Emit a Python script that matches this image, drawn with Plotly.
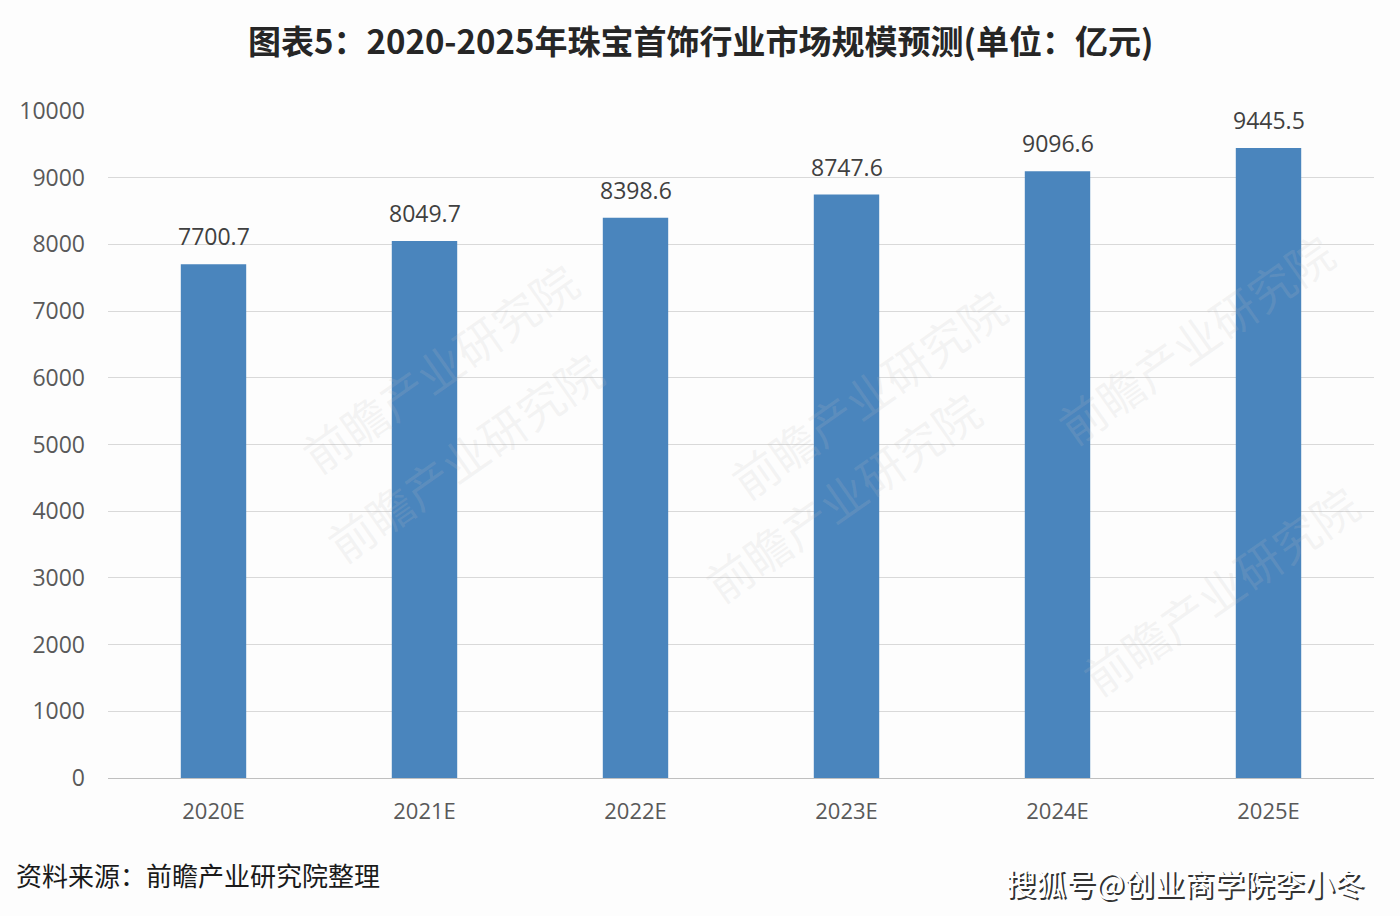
import plotly.graph_objects as go

categories = ["2020E", "2021E", "2022E", "2023E", "2024E", "2025E"]
values = [7700.7, 8049.7, 8398.6, 8747.6, 9096.6, 9445.5]
value_labels = ["7700.7", "8049.7", "8398.6", "8747.6", "9096.6", "9445.5"]
y_ticks = [0, 1000, 2000, 3000, 4000, 5000, 6000, 7000, 8000, 9000, 10000]
y_tick_labels = ["0", "1000", "2000", "3000", "4000", "5000", "6000", "7000", "8000", "9000", "10000"]

title_text = "图表5：2020-2025年珠宝首饰行业市场规模预测(单位：亿元)"
source_text = "资料来源：前瞻产业研究院整理"
mark_text = "搜狐号@创业商学院李小冬"
wm_text = "前瞻产业研究院"

fig = go.Figure()
fig.add_trace(go.Bar(
    x=categories, y=values,
    marker=dict(color="#4A85BD", line=dict(width=0)),
    width=0.31,
    hoverinfo="x+y",
))

fig.update_layout(
    width=1400, height=916,
    margin=dict(l=108, r=26, t=111, b=138),
    paper_bgcolor="#FDFDFD", plot_bgcolor="#FDFDFD",
    showlegend=False,
    xaxis=dict(
        tickfont=dict(family="Open Sans, Liberation Sans, sans-serif", size=22, color="#595959"),
        showgrid=False, showline=True, linecolor="#BFBFBF", linewidth=1,
        ticks="", ticklabelstandoff=14,
    ),
    yaxis=dict(
        range=[0, 10000], tickvals=y_ticks, ticktext=y_tick_labels,
        tickfont=dict(family="Open Sans, Liberation Sans, sans-serif", size=23, color="#595959"),
        showgrid=True, gridcolor="#D9D9D9", gridwidth=1,
        zeroline=False, showline=False, ticks="", ticklabelstandoff=22,
    ),
)

# faint watermarks
wm_positions = [(0.14, 0.8), (0.6, 0.76), (0.98, 0.66), (0.16, 0.3), (0.58, 0.24), (1.0, 0.1)]
for (wx, wy) in wm_positions:
    fig.add_annotation(text=wm_text, xref="paper", yref="paper", x=wx, y=wy,
                       showarrow=False, textangle=-35,
                       font=dict(family="Noto Sans CJK SC, sans-serif", size=46,
                                 color="rgba(190,190,190,0.16)"))

# data labels
for c, v, t in zip(categories, values, value_labels):
    fig.add_annotation(text=t, x=c, y=v, xref="x", yref="y", yshift=28,
                       showarrow=False, xanchor="center", yanchor="middle",
                       font=dict(family="Open Sans, Liberation Sans, sans-serif", size=23, color="#404040"))

fig.add_annotation(text="<b>" + title_text + "</b>", xref="paper", yref="paper",
                   x=0.5, xshift=-41, y=1, yshift=71, xanchor="center", yanchor="middle",
                   showarrow=False,
                   font=dict(family="Noto Sans CJK SC, sans-serif", size=33, color="#262626"))
fig.add_annotation(text=source_text, xref="paper", yref="paper",
                   x=0, xshift=-94, y=0, yshift=-96, xanchor="left", yanchor="middle",
                   showarrow=False,
                   font=dict(family="Noto Sans CJK SC, sans-serif", size=26, color="#1a1a1a"))
# bottom-right outlined watermark text (shadow then white)
for dx, dy, col in [(2, -2, "#333333"), (0, 0, "#FFFFFF")]:
    fig.add_annotation(text=mark_text, xref="paper", yref="paper",
                       x=1, xshift=-8 + dx, y=0, yshift=-104 + dy, xanchor="right", yanchor="middle",
                       showarrow=False,
                       font=dict(family="Noto Sans CJK SC, sans-serif", size=30, color=col))

fig.write_html("out.html")
